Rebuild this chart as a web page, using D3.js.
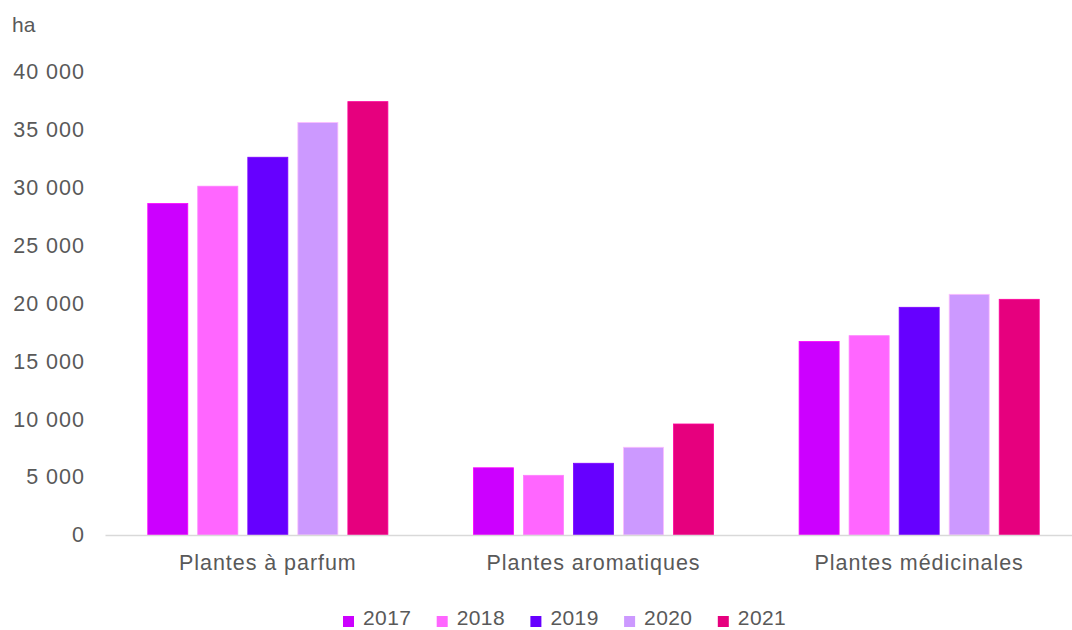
<!DOCTYPE html>
<html><head><meta charset="utf-8">
<script src="https://cdn.jsdelivr.net/npm/d3@7"></script>
<style>body{margin:0;background:#fff}svg{display:block}text{font-family:"Liberation Sans",Arial,sans-serif;fill:#595959}</style>
</head><body>
<svg id="c" width="1072" height="630"></svg>
<script>
const categories = ["Plantes à parfum", "Plantes aromatiques", "Plantes médicinales"];
const years = ["2017", "2018", "2019", "2020", "2021"];
const values2017 = [28600, 5800, 16700];
const values2018 = [30100, 5150, 17200];
const values2019 = [32600, 6190, 19650];
const values2020 = [35600, 7570, 20770];
const values2021 = [37400, 9580, 20340];
const yTicks = [0, 5000, 10000, 15000, 20000, 25000, 30000, 35000, 40000];
const colors = ["#CC00FF", "#FF66FF", "#6600FF", "#CC99FF", "#E6007E"];
const series = [values2017, values2018, values2019, values2020, values2021];

const svg = d3.select("#c");
const x0 = d3.scaleBand().domain(categories).range([105, 1082]).padding(0);
const x1 = d3.scaleBand().domain(years).range([0, x0.bandwidth()]).paddingInner(0.2).paddingOuter(0.855);
const y = d3.scaleLinear().domain([0, 40000]).range([535, 71.5]);
const fmt = v => d3.format(",")(v).replace(/,/g, " ");

// bars
years.forEach((yr, i) => {
  svg.append("g").selectAll("rect").data(categories).join("rect")
    .attr("x", c => x0(c) + x1(yr))
    .attr("y", (c, j) => y(series[i][j]))
    .attr("width", x1.bandwidth())
    .attr("height", (c, j) => y(0) - y(series[i][j]))
    .attr("fill", colors[i])
    .attr("stroke", d3.color(colors[i]).brighter(0.6))
    .attr("stroke-width", 0.8);
});

// y axis labels
const ya = svg.append("g").attr("transform", "translate(85,0)")
  .call(d3.axisLeft(y).tickValues(yTicks).tickFormat(fmt).tickSize(0).tickPadding(0));
ya.select(".domain").remove();
ya.selectAll("text").style("font-size", "21.5px").style("letter-spacing", "1px").attr("fill", "#595959").attr("font-family", "Liberation Sans, Arial, sans-serif");

// x axis
const xa = svg.append("g").attr("transform", "translate(0,535)")
  .call(d3.axisBottom(x0).tickSize(0).tickPadding(20));
xa.select(".domain").attr("stroke", "#d9d9d9").attr("stroke-width", 1.5);
xa.selectAll("text").style("font-size", "21.5px").style("letter-spacing", "0.95px").attr("fill", "#595959").attr("font-family", "Liberation Sans, Arial, sans-serif");

svg.append("text").attr("x", 12).attr("y", 32).style("font-size", "21px").text("ha");

// legend
const lg = svg.append("g");
years.forEach((yr, i) => {
  const gx = 343 + i * 93.7;
  lg.append("rect").attr("x", gx).attr("y", 616).attr("width", 11).attr("height", 11).attr("fill", colors[i]);
  lg.append("text").attr("x", gx + 20).attr("y", 625).style("font-size", "21px").style("letter-spacing", "0.4px").text(yr);
});
</script>
</body></html>
